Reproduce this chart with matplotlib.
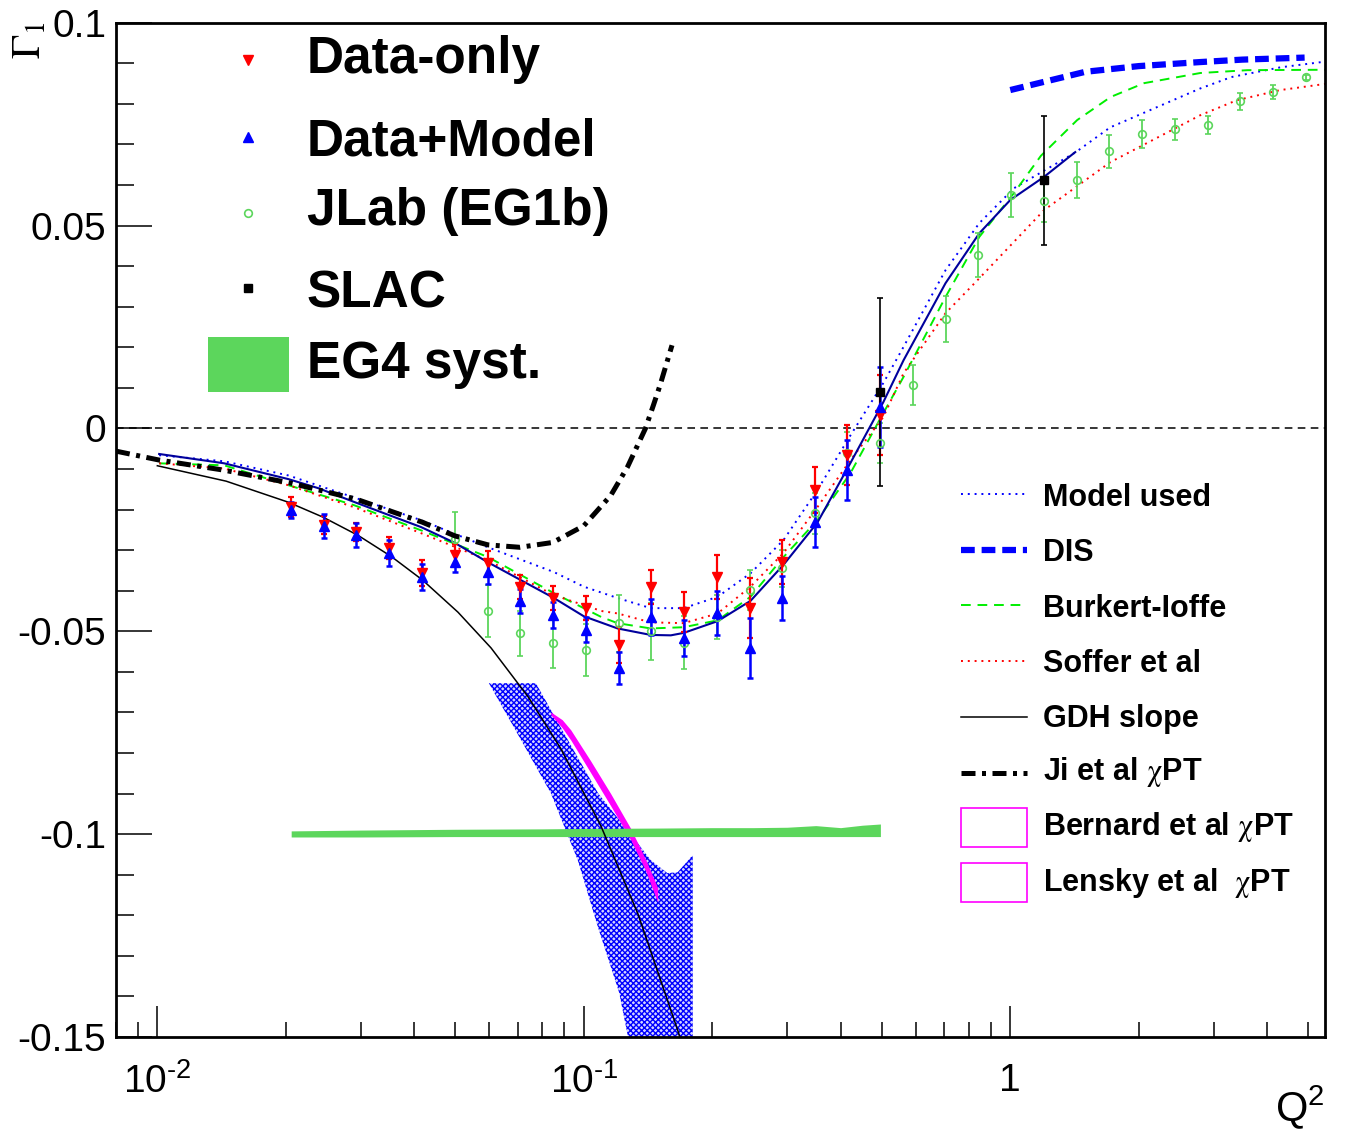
import numpy as np
import matplotlib.pyplot as plt
from matplotlib.lines import Line2D
from matplotlib.patches import Rectangle
from matplotlib.ticker import MultipleLocator, LogLocator, NullFormatter, FuncFormatter

plt.rcParams['font.family'] = ['Liberation Sans', 'DejaVu Sans']
plt.rcParams['mathtext.fontset'] = 'custom'
plt.rcParams['mathtext.rm'] = 'Liberation Sans'
plt.rcParams['mathtext.it'] = 'Liberation Sans:italic'
plt.rcParams['mathtext.bf'] = 'Liberation Sans:bold'
plt.rcParams['hatch.linewidth'] = 1.0

# ---- data points (Q2, Gamma1, error) ----
q2_data = [0.0206, 0.0246, 0.0292, 0.0349, 0.0418, 0.0499, 0.0596, 0.0708, 0.0846, 0.101,
           0.121, 0.144, 0.172, 0.205, 0.245, 0.291, 0.348, 0.415, 0.496]
g1_data_only = [-0.0194, -0.0239, -0.0256, -0.0295, -0.0356, -0.0312, -0.0332, -0.0391, -0.0418, -0.0443,
                -0.0534, -0.0391, -0.0453, -0.0366, -0.0443, -0.0329, -0.0152, -0.0066, 0.0033]
err_data_only = [0.0025, 0.0022, 0.0022, 0.0027, 0.0032, 0.0027, 0.0030, 0.0030, 0.0030, 0.0030,
                 0.0044, 0.0042, 0.0049, 0.0054, 0.0074, 0.0054, 0.0057, 0.0074, 0.0098]
g1_data_model = [-0.0201, -0.0241, -0.0263, -0.0307, -0.0366, -0.0329, -0.0354, -0.0426, -0.0460, -0.0496,
                 -0.0591, -0.0464, -0.0517, -0.0455, -0.0541, -0.0418, -0.0231, -0.0103, 0.0053]
err_data_model = [0.0020, 0.0030, 0.0030, 0.0032, 0.0032, 0.0025, 0.0030, 0.0030, 0.0032, 0.0030,
                  0.0039, 0.0044, 0.0044, 0.0054, 0.0074, 0.0054, 0.0062, 0.0074, 0.0098]

q2_eg1b = [0.0499, 0.0596, 0.0708, 0.0846, 0.101, 0.121, 0.144, 0.172, 0.205, 0.245, 0.291, 0.348, 0.415, 0.496,
           0.593, 0.708, 0.841, 1.005, 1.20, 1.435, 1.706, 2.04, 2.43, 2.91, 3.46, 4.13, 4.93]
g1_eg1b = [-0.0272, -0.0450, -0.0505, -0.0530, -0.0547, -0.0480, -0.0500, -0.0528, -0.0465, -0.0398,
           -0.0345, -0.0209, -0.0060, -0.0036, 0.0107, 0.0270, 0.0427, 0.0575, 0.0560, 0.0612,
           0.0683, 0.0725, 0.0737, 0.0748, 0.0806, 0.0830, 0.0865]
err_eg1b = [0.0065, 0.0064, 0.0056, 0.0060, 0.0064, 0.0070, 0.0070, 0.0065, 0.0055, 0.0050,
            0.0045, 0.0050, 0.0050, 0.0050, 0.0050, 0.0057, 0.0055, 0.0055, 0.0050, 0.0045,
            0.0040, 0.0035, 0.0025, 0.0022, 0.0020, 0.0017, 0.0005]

q2_slac = [0.496, 1.20]
g1_slac = [0.0090, 0.0612]
err_slac = [0.0232, 0.0159]

# ---- curves ----
q2_model = [0.0101, 0.01435, 0.0203, 0.0289, 0.0415, 0.0596, 0.0851, 0.1, 0.12, 0.1435, 0.1715, 0.206,
            0.246, 0.294, 0.353, 0.422, 0.504, 0.562, 0.705, 0.846, 1.02, 1.42, 1.715, 2.79, 3.3, 4.3, 5.47]
g1_model = [-0.0066, -0.0081, -0.0116, -0.0170, -0.0226, -0.0293, -0.0354, -0.0390, -0.0418, -0.0443, -0.0443,
            -0.0415, -0.0357, -0.0275, -0.0152, -0.0017, 0.0112, 0.0201, 0.0390, 0.0506, 0.0592, 0.0680,
            0.0742, 0.0838, 0.0866, 0.0890, 0.0904]

q2_dis = [1.0, 1.5, 2.0, 2.79, 3.5, 4.9]
g1_dis = [0.0834, 0.0879, 0.0893, 0.0903, 0.0909, 0.0914]

q2_bi = [0.0101, 0.01435, 0.0203, 0.0289, 0.0415, 0.0596, 0.0851, 0.11, 0.12, 0.1435, 0.1715, 0.206,
         0.246, 0.294, 0.353, 0.422, 0.504, 0.562, 0.705, 0.846, 1.02, 1.18, 1.435, 1.72, 2.06, 2.79, 3.6, 5.47]
g1_bi = [-0.0086, -0.0091, -0.0140, -0.0189, -0.0251, -0.0317, -0.0406, -0.0465, -0.0480, -0.0493, -0.0490,
         -0.0473, -0.0415, -0.0317, -0.0226, -0.0110, 0.0038, 0.0127, 0.0324, 0.0472, 0.0580, 0.0672,
         0.0760, 0.0817, 0.0851, 0.0876, 0.0883, 0.0884]

q2_soffer = [0.0101, 0.01435, 0.0203, 0.0289, 0.0415, 0.0596, 0.0851, 0.11, 0.12, 0.1435, 0.1715, 0.206,
             0.246, 0.294, 0.353, 0.422, 0.504, 0.562, 0.705, 0.846, 1.2, 1.715, 2.79, 3.4, 4.3, 5.47]
g1_soffer = [-0.0086, -0.0099, -0.0140, -0.0194, -0.0258, -0.0325, -0.0411, -0.0450, -0.0456, -0.0478, -0.0480,
             -0.0456, -0.0390, -0.0307, -0.0194, -0.0078, 0.0028, 0.0136, 0.0284, 0.0370, 0.0538, 0.0656,
             0.0772, 0.0809, 0.0834, 0.0849]

q2_gdh = [0.01, 0.0145, 0.0203, 0.0245, 0.0296, 0.0354, 0.0419, 0.0507, 0.0606, 0.0741, 0.0883,
          0.1097, 0.134, 0.166, 0.172]
g1_gdh = [-0.0092, -0.0130, -0.0182, -0.0219, -0.0264, -0.0316, -0.0374, -0.0453, -0.0541, -0.0662, -0.0789,
          -0.0980, -0.1197, -0.1483, -0.1535]

q2_ji = [0.008, 0.0101, 0.01435, 0.0206, 0.0292, 0.0418, 0.0499, 0.0596, 0.0708, 0.0846, 0.1, 0.1157,
         0.1266, 0.1395, 0.1456, 0.151, 0.161]
g1_ji = [-0.0056, -0.0078, -0.0103, -0.0135, -0.0174, -0.0231, -0.0265, -0.0287, -0.0293, -0.0281, -0.0240,
         -0.0165, -0.0095, 0.0, 0.0057, 0.0107, 0.0205]

q2_fit = [0.0101, 0.01435, 0.0203, 0.0238, 0.0289, 0.034, 0.0415, 0.0496, 0.0596, 0.0712, 0.0851, 0.1, 0.12,
          0.1435, 0.16, 0.1715, 0.206, 0.246, 0.294, 0.353, 0.422, 0.504, 0.562, 0.705, 0.846, 1.0, 1.2, 1.42]
g1_fit = [-0.0063, -0.0086, -0.0125, -0.0147, -0.0181, -0.0209, -0.0243, -0.0281, -0.0330, -0.0374, -0.0418,
          -0.0463, -0.0493, -0.0509, -0.0510, -0.0504, -0.0475, -0.0425, -0.0336, -0.0232, -0.0085, 0.0065,
          0.0168, 0.0358, 0.0481, 0.0563, 0.0620, 0.0681]

# ---- bands ----
q2_bern_left = [0.0599, 0.0686, 0.0837, 0.0968, 0.108, 0.121, 0.127]
g1_bern_left = [-0.0628, -0.0737, -0.0899, -0.1064, -0.1230, -0.1390, -0.1500]
q2_bern_right = [0.180, 0.180, 0.166, 0.157, 0.1435, 0.1337, 0.108, 0.0883, 0.0772]
g1_bern_right = [-0.1500, -0.1052, -0.1094, -0.1096, -0.1064, -0.1022, -0.0899, -0.0737, -0.0628]

q2_lensky = [0.0837, 0.0890, 0.0932, 0.1037, 0.1156, 0.1288, 0.1396, 0.149]
lensky_hi = [-0.0699, -0.0718, -0.0743, -0.0819, -0.0900, -0.0986, -0.1062, -0.1132]
lensky_lo = [-0.0706, -0.0738, -0.0768, -0.0848, -0.0930, -0.1014, -0.1090, -0.1168]

q2_eg4 = [0.0206, 0.03, 0.05, 0.08, 0.1, 0.15, 0.2, 0.25, 0.3, 0.35, 0.4, 0.45, 0.496]
eg4_hi = [-0.0992, -0.0990, -0.0988, -0.0987, -0.0986, -0.0985, -0.0984, -0.0984, -0.0983, -0.0979,
          -0.0984, -0.0978, -0.0975]
eg4_lo = [-0.1007, -0.1007, -0.1006, -0.1006, -0.1006, -0.1006, -0.1006, -0.1006, -0.1006, -0.1006,
          -0.1006, -0.1006, -0.1006]

W, H = 1345, 1131
fig = plt.figure(figsize=(W / 100, H / 100), dpi=100)
ax = fig.add_axes([116 / W, 1 - 1037 / H, (1325 - 116) / W, (1037 - 22.7) / H])
ax.set_xscale('log')
ax.set_xlim(0.008, 5.47)
ax.set_ylim(-0.15, 0.1)

ax.axhline(0, color='black', lw=1.1, ls=(0, (5, 3.5)))

# bands
ax.fill(q2_bern_left + q2_bern_right, g1_bern_left + g1_bern_right,
        facecolor='#d4d4ff', edgecolor='blue', hatch='xxxxxx', lw=0)
ax.fill_between(q2_lensky, lensky_lo, lensky_hi, color='#ff00ff', lw=0)
ax.fill_between(q2_eg4, eg4_lo, eg4_hi, color='#5cd65c', lw=0)

# curves
ax.plot(q2_gdh, g1_gdh, color='black', lw=1.1)
ax.plot(q2_model, g1_model, color='blue', lw=1.4, ls=(0, (1, 2.5)))
ax.plot(q2_bi, g1_bi, color='#00ee00', lw=1.4, ls=(0, (5, 3.5)))
ax.plot(q2_soffer, g1_soffer, color='red', lw=1.4, ls=(0, (1, 2.5)))
ax.plot(q2_dis, g1_dis, color='blue', lw=4.5, ls=(0, (2.2, 1.1)))
ax.plot(q2_fit, g1_fit, color='#00009c', lw=1.5)

# points
ax.errorbar(q2_eg1b, g1_eg1b, yerr=err_eg1b, fmt='o', ms=5.5, mfc='none', mec='#5cd65c', mew=1.2,
            ecolor='#5cd65c', elinewidth=1.3, capsize=2.5, capthick=1.3)
ax.errorbar(q2_data, g1_data_only, yerr=err_data_only, fmt='v', ms=7, color='red',
            elinewidth=1.6, capsize=2.5, capthick=1.6)
ax.errorbar(q2_data, g1_data_model, yerr=err_data_model, fmt='^', ms=7, color='blue',
            elinewidth=1.8, capsize=2.5, capthick=1.8)
ax.errorbar(q2_slac, g1_slac, yerr=err_slac, fmt='s', ms=6, color='black',
            elinewidth=1.2, capsize=2.5, capthick=1.2)

# Ji et al drawn on top of the points
ax.plot(q2_ji, g1_ji, color='black', lw=3.6, ls=(0, (2.8, 1.3, 0.8, 1.3)), zorder=5)

# axes style
for s in ['top', 'right', 'left', 'bottom']:
    ax.spines[s].set_linewidth(2)
ax.yaxis.set_major_locator(MultipleLocator(0.05))
ax.yaxis.set_minor_locator(MultipleLocator(0.01))
ax.yaxis.set_major_formatter(FuncFormatter(lambda v, p: '0' if abs(v) < 1e-9 else '%g' % v))
ax.xaxis.set_minor_locator(LogLocator(base=10, subs=np.arange(2, 10)))
ax.xaxis.set_minor_formatter(NullFormatter())
ax.set_xticks([0.01, 0.1, 1])
ax.set_xticklabels([r'$10^{\text{-}2}$', r'$10^{\text{-}1}$', '1'])
ax.tick_params(axis='y', which='major', direction='in', length=26, width=1.1, pad=7, labelsize=28)
ax.tick_params(axis='y', which='minor', direction='in', length=13, width=1.1)
ax.tick_params(axis='x', which='major', direction='in', length=22, width=1.1, pad=19, labelsize=28)
ax.tick_params(axis='x', which='minor', direction='in', length=11, width=1.1)
ax.tick_params(top=False, right=False, which='both')

fig.text(1325 / W, 1 - 1121 / H, r'Q$^2$', ha='right', va='baseline', fontsize=30)
fig.text(30 / W, 1 - 40 / H, r'$\Gamma_1$', rotation=90, ha='center', va='center',
         fontsize=29, math_fontfamily='stix')


def fx(px):
    return px / W


def fy(py):
    return 1 - py / H


# top-left legend
big = dict(fontsize=37, fontweight='bold', va='baseline', ha='left')
fig.add_artist(Line2D([fx(248)], [fy(60)], marker='v', ms=7, color='red', ls='none'))
fig.text(fx(307), fy(73), 'Data-only', **big)
fig.add_artist(Line2D([fx(248)], [fy(137)], marker='^', ms=7, color='blue', ls='none'))
fig.text(fx(307), fy(155), 'Data+Model', **big)
fig.add_artist(Line2D([fx(248)], [fy(213)], marker='o', ms=5.5, mfc='none', mec='#5cd65c',
                      mew=1.2, ls='none'))
fig.text(fx(307), fy(225), 'JLab (EG1b)', **big)
fig.add_artist(Line2D([fx(248)], [fy(288)], marker='s', ms=6, color='black', ls='none'))
fig.text(fx(307), fy(307), 'SLAC', **big)
fig.add_artist(Rectangle((fx(208), fy(392)), fx(289) - fx(208), fy(337) - fy(392),
                         transform=fig.transFigure, facecolor='#5cd65c', lw=0))
fig.text(fx(307), fy(378), 'EG4 syst.', **big)

# right legend
small = dict(fontsize=22, fontweight='bold', va='baseline', ha='left', math_fontfamily='stix')
chi = r'$\mathrm{\chi}$'
rows = [
    ('Model used', 494, dict(color='blue', lw=1.4, ls=(0, (1, 2.5))), 506),
    ('DIS', 550, dict(color='blue', lw=4.5, ls=(0, (2.2, 1.1))), 561),
    ('Burkert-Ioffe', 605, dict(color='#00ee00', lw=1.4, ls=(0, (5, 3.5))), 617),
    ('Soffer et al', 661, dict(color='red', lw=1.4, ls=(0, (1, 2.5))), 672),
    ('GDH slope', 717, dict(color='black', lw=1.1), 727),
    ('Ji et al ' + chi + 'PT', 773, dict(color='black', lw=3.6, ls=(0, (2.8, 1.3, 0.8, 1.3))), 780),
]
for label, ly, style, by in rows:
    fig.add_artist(Line2D([fx(961), fx(1027)], [fy(ly), fy(ly)], **style))
    fig.text(fx(1043), fy(by), label, **small)
for label, top, by in [('Bernard et al ' + chi + 'PT', 808, 835), ('Lensky et al  ' + chi + 'PT', 863, 891)]:
    fig.add_artist(Rectangle((fx(961), fy(top + 39)), fx(1027) - fx(961), fy(top) - fy(top + 39),
                             transform=fig.transFigure, facecolor='none', edgecolor='#ff00ff', lw=1.2))
    fig.text(fx(1043), fy(by), label, **small)

fig.savefig('out.png', dpi=100)
